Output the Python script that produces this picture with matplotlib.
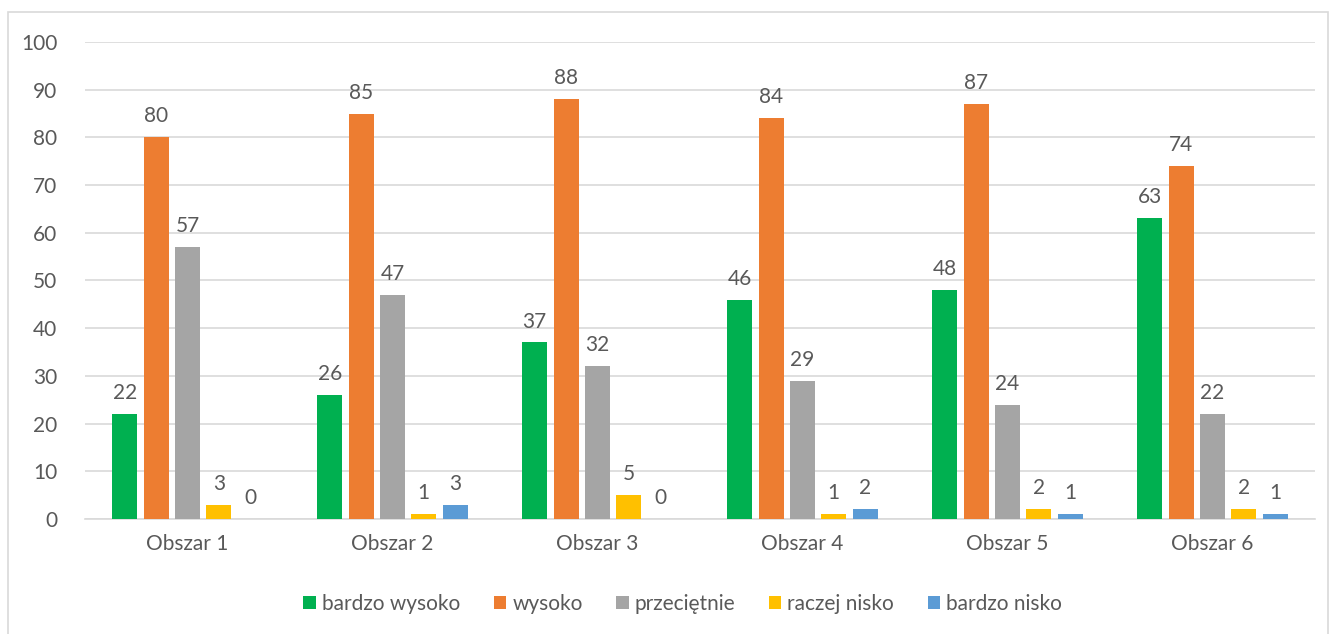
import numpy as np
import matplotlib
matplotlib.use('Agg')
import matplotlib.pyplot as plt
from matplotlib.patches import Rectangle

plt.rcParams['font.family'] = ['Lato', 'DejaVu Sans']

categories = ['Obszar 1', 'Obszar 2', 'Obszar 3', 'Obszar 4', 'Obszar 5', 'Obszar 6']
series_names = ['bardzo wysoko', 'wysoko', 'przeciętnie', 'raczej nisko', 'bardzo nisko']
bardzo_wysoko = [22, 26, 37, 46, 48, 63]
wysoko = [80, 85, 88, 84, 87, 74]
przecietnie = [57, 47, 32, 29, 24, 22]
raczej_nisko = [3, 1, 5, 1, 2, 2]
bardzo_nisko = [0, 3, 0, 2, 1, 1]
colors = ['#00b050', '#ed7d31', '#a5a5a5', '#ffc000', '#5b9bd5']

series = [bardzo_wysoko, wysoko, przecietnie, raczej_nisko, bardzo_nisko]
txt = '#595959'
fs = 15

fig = plt.figure(figsize=(13.36, 6.34), dpi=100)
ax = fig.add_axes([0.0636, 0.1814, 0.9206, 0.7524])

x = np.arange(len(categories))
w = 0.122
step = 0.153
for i, (vals, name, c) in enumerate(zip(series, series_names, colors)):
    pos = x + (i - 2) * step
    ax.bar(pos, vals, w, color=c, label=name, zorder=3)
    for p, v in zip(pos, vals):
        ax.text(p, v + 2.3, str(v), ha='center', va='bottom', fontsize=fs, color=txt)

ax.set_xlim(-0.5, len(categories) - 0.5)
ax.set_ylim(0, 100)
ax.set_yticks(range(0, 101, 10))
ax.set_xticks(x)
ax.set_xticklabels(categories)
ax.tick_params(axis='both', length=0, labelsize=fs, labelcolor=txt)
ax.tick_params(axis='x', pad=11)
ax.tick_params(axis='y', pad=20)
ax.grid(axis='y', color='#d9d9d9', linewidth=1.2, zorder=0)
for s in ['top', 'right', 'left']:
    ax.spines[s].set_visible(False)
ax.spines['bottom'].set_color('#d9d9d9')
ax.spines['bottom'].set_linewidth(1.2)

leg = fig.legend(loc='center', bbox_to_anchor=(0.511, 0.047), ncol=5, frameon=False,
                 fontsize=fs, handlelength=0.6, handleheight=0.6, handletextpad=0.3,
                 columnspacing=1.6)
for t in leg.get_texts():
    t.set_color(txt)

fig.patches.append(Rectangle((8 / 1336, -0.01), 1320 / 1336, 1 - 12 / 634 + 0.01,
                             transform=fig.transFigure, fill=False,
                             edgecolor='#d9d9d9', linewidth=1.2))

fig.savefig('out.png', dpi=100)
